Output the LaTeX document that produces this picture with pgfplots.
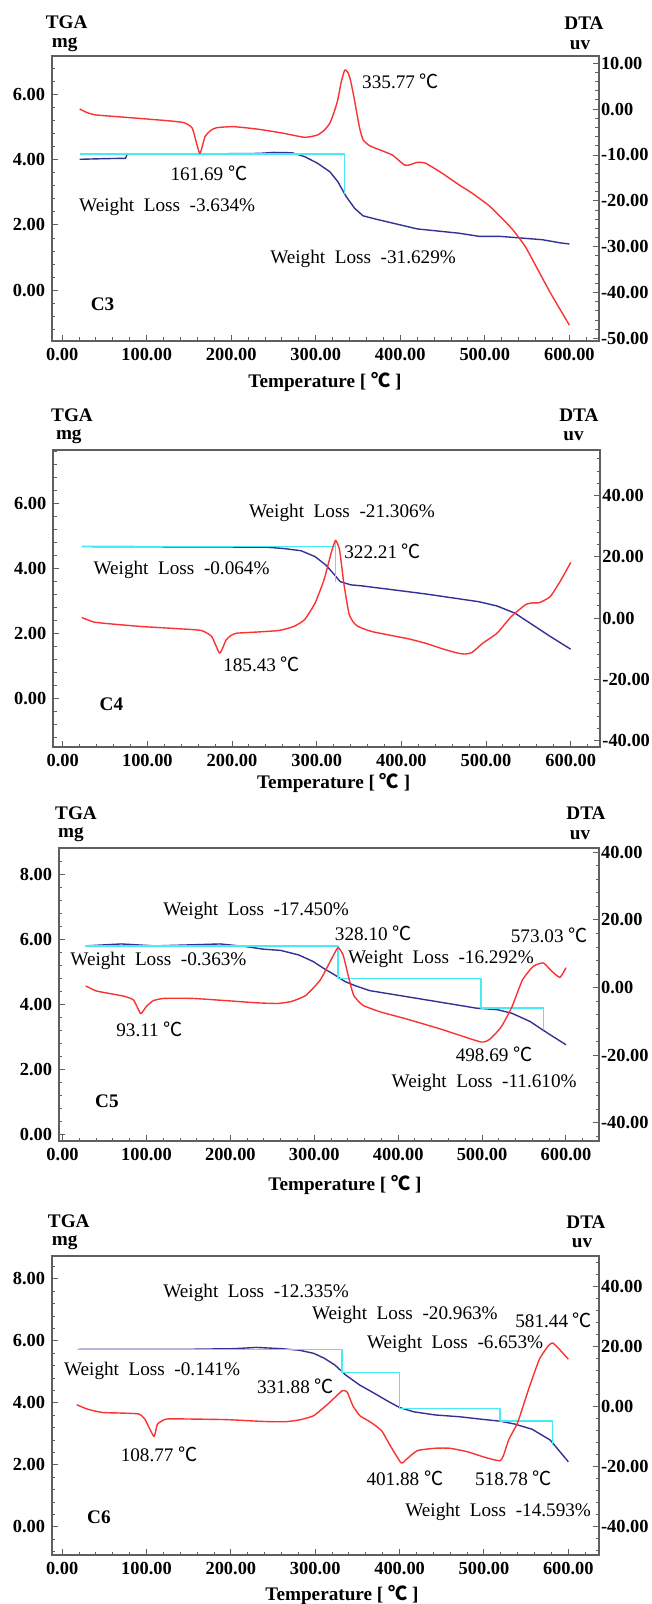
\documentclass[border=0pt]{standalone}
\usepackage{pgfplots}
\pgfplotsset{compat=1.18}
\usepackage{fontspec}
\setmainfont{Liberation Serif}
\newfontfamily\cjk{Noto Sans CJK SC}

\definecolor{dtared}{RGB}{250,50,50}
\definecolor{tgablue}{RGB}{50,50,150}
\definecolor{stepcyan}{RGB}{70,235,245}
\definecolor{framegray}{RGB}{95,95,95}

\newcommand\dC{{\cjk ℃}}
\newcommand\txt{\fontsize{9.6}{11.5}\selectfont}
\newcommand\wl[1]{Weight\hspace{0.5em}Loss\hspace{0.5em}#1\%}

\pgfplotsset{
  panel/.style={
    scale only axis, clip=false,
    tick align=inside,
    major tick length=3pt, minor tick length=1.6pt,
    tick style={draw=framegray, line width=0.5pt},
    axis line style={draw=framegray, line width=0.9pt},
    every tick label/.append style={font=\bfseries\fontsize{9.2}{11}\selectfont},
    /pgf/number format/fixed,
    /pgf/number format/fixed zerofill,
    /pgf/number format/precision=2,
    /pgf/number format/assume math mode=true,
    every axis plot/.append style={line width=0.7pt, line join=round},
  },
  tga/.style={panel,
    xtick={0,100,...,600}, minor xtick={20,40,...,620},
    xtick pos=bottom, ytick pos=left,
    nodes={font=\txt},
  },
  dta/.style={panel,
    axis x line=none, axis y line*=right,
    yticklabel style={inner xsep=1pt},
  },
}

\begin{document}
\begin{tikzpicture}
\useasboundingbox (0,0) rectangle (326pt,-802pt);

% ---------------- C3
\begin{axis}[tga, at={(26.05pt,-170.35pt)}, width=273.25pt, height=142.5pt,
  xmin=-11.9, xmax=634.6, ymin=-1.54, ymax=7.18,
  ytick={0,2,4,6}, minor ytick={-1.2,-0.8,...,7.0}]
\addplot[tgablue] coordinates {
  (20.7,4.01)(50,4.03)(75,4.04)(77,4.17)(150,4.17)(233,4.19)(250,4.22)
  (272,4.21)(287,4.09)(302,3.89)(316.6,3.63)(326,3.33)(336,2.87)(346,2.51)
  (356,2.28)(371,2.18)(395.5,2.03)(420,1.88)(469,1.75)(494,1.65)(519,1.65)
  (568,1.55)(590,1.45)(600,1.42)};
\addplot[stepcyan] coordinates {(20.7,4.17)(334.3,4.17)(334.3,2.95)};
\node at (axis cs:400.4,6.4) {335.77 \dC};
\node at (axis cs:173.6,3.58) {161.69 \dC};
\node at (axis cs:124.3,2.54) {\wl{-3.634}};
\node at (axis cs:356,0.96) {\wl{-31.629}};
\node[font=\bfseries\txt] at (axis cs:47.8,-0.41) {C3};
\end{axis}
\begin{axis}[dta, at={(26.05pt,-170.35pt)}, width=273.25pt, height=142.5pt,
  xmin=-11.9, xmax=634.6, ymin=-50.5, ymax=11.66,
  ytick={-50,-40,...,10}, minor ytick={-50,-48,...,10}]
\addplot[dtared, smooth, tension=0.3] coordinates {
  (20.7,0.04)(30,-0.8)(40.4,-1.27)(75,-1.78)(124,-2.51)(144,-2.95)(154,-4.18)
  (162.7,-9.64)(169,-6.0)(176,-4.6)(183,-4.04)(203,-3.82)(233,-4.4)(262,-5.27)
  (287,-6.15)(302,-5.64)(310,-4.6)(316.6,-3.09)(322,-0.5)(326,2.0)(330,5.8)
  (334.3,8.55)(338,8.0)(341,6.36)(345,2.8)(348.6,-0.9)(352,-4.2)(356,-6.7)
  (363,-7.9)(371,-8.55)(390.5,-10.0)(405,-12.2)(412,-12.1)(420,-11.6)
  (430,-11.8)(449.7,-14.0)(469.4,-16.5)(484,-18.2)(504,-20.9)(518.7,-23.5)
  (533.5,-26.4)(548,-30.0)(563,-35.1)(578,-40.2)(600,-47.1)};
\end{axis}

% ---------------- C4
\begin{axis}[tga, at={(26.7pt,-373.35pt)}, width=273.3pt, height=148.35pt,
  xmin=-11, xmax=634.6, ymin=-1.47, ymax=7.66,
  ytick={0,2,4,6}, minor ytick={-1.2,-0.8,...,7.6}]
\addplot[tgablue] coordinates {
  (22.6,4.69)(239.3,4.67)(260.5,4.63)(281.5,4.56)(298,4.38)(310.8,4.12)
  (319.3,3.87)(327.7,3.61)(340.3,3.51)(353,3.48)(386.6,3.37)(428.7,3.23)
  (470.8,3.07)(491.8,2.99)(512.9,2.86)(534,2.64)(555,2.28)(576,1.92)(600,1.53)};
\addplot[stepcyan] coordinates {(22.6,4.69)(322.2,4.69)};
\addplot[stepcyan] coordinates {(322.2,4.89)(322.2,3.61)};
\node at (axis cs:329.8,5.73) {\wl{-21.306}};
\node at (axis cs:378,4.53) {322.21 \dC};
\node at (axis cs:140.4,3.97) {\wl{-0.064}};
\node at (axis cs:235,1.08) {185.43 \dC};
\node[font=\bfseries\txt] at (axis cs:57.5,-0.16) {C4};
\end{axis}
\begin{axis}[dta, at={(26.7pt,-373.35pt)}, width=273.3pt, height=148.35pt,
  xmin=-11, xmax=634.6, ymin=-41.96, ymax=54.9,
  ytick={-40,-20,...,40}, minor ytick={-40,-36,...,52}]
\addplot[dtared, smooth, tension=0.3] coordinates {
  (22.6,0.2)(30,-0.6)(37.3,-1.3)(54,-1.8)(92,-2.7)(134,-3.4)(163.5,-4.0)(176,-6.0)
  (185.4,-11.4)(193,-7.1)(199,-5.6)(205.6,-4.9)(231,-4.5)(256,-4.0)(273,-2.7)
  (285.6,-0.5)(298,4.9)(308.6,12.5)(317,21.2)(322.2,25.4)(327,22.3)
  (332,11.4)(338,1.6)(343,-1.2)(348.7,-2.7)(365.6,-4.4)(407.7,-6.7)(428.7,-8.2)
  (449.7,-10.1)(466.6,-11.4)(475,-11.7)(483.4,-11.2)(496,-8.2)(513,-4.9)(529.7,0.5)
  (546.6,4.4)(555,5.0)(563.4,5.1)(576,7.1)(588.6,12.5)(600,18.2)};
\end{axis}

% ---------------- C5
\begin{axis}[tga, at={(29.6pt,-570.35pt)}, width=269.75pt, height=146.2pt,
  xmin=-4, xmax=639, ymin=-0.2, ymax=8.82,
  ytick={0,2,4,6,8}, minor ytick={0,0.4,...,8.8}]
\addplot[tgablue] coordinates {
  (27.5,5.81)(70,5.87)(110,5.81)(150,5.84)(188,5.87)(218,5.79)(239,5.71)
  (260,5.67)(281.5,5.53)(298.5,5.33)(311,5.12)(324,4.92)(336.6,4.71)
  (349,4.58)(366,4.43)(408.6,4.25)(451,4.07)(493,3.89)(518.6,3.84)
  (535.6,3.73)(557,3.48)(578,3.12)(600,2.76)};
\addplot[stepcyan] coordinates {(27.5,5.81)(328.1,5.81)(328.1,4.81)
  (498.7,4.81)(498.7,3.89)(573,3.89)(573,3.22)};
\node at (axis cs:230.7,6.89) {\wl{-17.450}};
\node at (axis cs:370.4,6.2) {328.10 \dC};
\node at (axis cs:580,6.15) {573.03 \dC};
\node at (axis cs:114.3,5.36) {\wl{-0.363}};
\node at (axis cs:451,5.42) {\wl{-16.292}};
\node at (axis cs:103.7,3.25) {93.11 \dC};
\node at (axis cs:514.4,2.45) {498.69 \dC};
\node at (axis cs:502.5,1.57) {\wl{-11.610}};
\node[font=\bfseries\txt] at (axis cs:52.9,1.01) {C5};
\end{axis}
\begin{axis}[dta, at={(29.6pt,-570.35pt)}, width=269.75pt, height=146.2pt,
  xmin=-4, xmax=639, ymin=-45.3, ymax=41.2,
  ytick={-40,-20,...,40}, minor ytick={-44,-40,...,40}]
\addplot[dtared, smooth, tension=0.3] coordinates {
  (27.5,0.5)(40.2,-1.0)(57.2,-1.8)(74,-2.6)(84.7,-3.7)(93.1,-7.7)(99.5,-5.7)
  (108,-3.9)(120.7,-3.2)(154.5,-3.2)(197,-3.9)(230.7,-4.5)(256,-4.7)
  (273,-4.1)(290,-2.3)(307,2.2)(319.8,8.1)(328.1,11.8)(334.4,9.6)
  (340.8,3.2)(347,-2.3)(357.7,-5.2)(378.9,-7.2)(408.6,-9.2)(451,-12.3)
  (498.7,-16.1)(510,-15.1)(522.9,-11.6)(535.6,-5.7)(548,2.2)(561,6.3)
  (573,7.3)(582,5.1)(592.7,3.0)(600,5.9)};
\end{axis}

% ---------------- C6
\begin{axis}[tga, at={(26.05pt,-777.5pt)}, width=273.3pt, height=149.65pt,
  xmin=-11.9, xmax=636, ymin=-0.91, ymax=8.75,
  ytick={0,2,4,6,8}, minor ytick={-0.8,-0.4,...,8.6}]
\addplot[tgablue] coordinates {
  (20,5.73)(150,5.73)(204.3,5.75)(230,5.79)(259.6,5.75)(281,5.70)(298,5.60)
  (310.7,5.44)(323.4,5.22)(336,4.90)(353,4.57)(370,4.31)(387,4.04)
  (400,3.85)(417,3.71)(442.4,3.61)(472,3.55)(497.7,3.47)(519,3.41)
  (536,3.32)(557,3.15)(578.5,2.80)(600,2.10)};
\addplot[stepcyan] coordinates {(17.3,5.73)(331.9,5.73)(331.9,4.98)
  (400,4.98)(400,3.82)(519,3.82)(519,3.42)(581.4,3.42)(581.4,2.64)};
\node at (axis cs:230,7.56) {\wl{-12.335}};
\node at (axis cs:406.3,6.84) {\wl{-20.963}};
\node at (axis cs:582.7,6.67) {581.44 \dC};
\node at (axis cs:465.8,5.90) {\wl{-6.653}};
\node at (axis cs:106.6,5.04) {\wl{-0.141}};
\node at (axis cs:276.6,4.54) {331.88 \dC};
\node at (axis cs:115,2.35) {108.77 \dC};
\node at (axis cs:406.3,1.56) {401.88 \dC};
\node at (axis cs:535,1.56) {518.78 \dC};
\node at (axis cs:516.8,0.48) {\wl{-14.593}};
\node[font=\bfseries\txt] at (axis cs:43.6,0.32) {C6};
\end{axis}
\begin{axis}[dta, at={(26.05pt,-777.5pt)}, width=273.3pt, height=149.65pt,
  xmin=-11.9, xmax=636, ymin=-49.4, ymax=50.1,
  ytick={-40,-20,...,40}, minor ytick={-48,-44,...,48}]
\addplot[dtared, smooth, tension=0.3] coordinates {
  (17.3,0.55)(30,-0.9)(47,-2.0)(68.5,-2.2)(90.6,-2.5)(98,-4.2)(108.8,-10.0)
  (113,-5.9)(123.6,-4.2)(153,-4.2)(196,-4.4)(238.3,-5.0)(264,-5.1)
  (281,-4.5)(298,-3.1)(315,0.8)(331.9,5.2)(338,4.7)(344.6,0.2)(353,-3.1)
  (366,-5.3)(378.7,-8.1)(389,-13.1)(401.9,-18.8)(408.4,-17.5)(421,-14.7)
  (442.4,-13.9)(459.4,-13.9)(480.7,-15.1)(502,-17.0)(518.8,-18.1)
  (523,-16.4)(529.6,-10.9)(540,-5.3)(553,5.8)(565.7,15.7)(576.4,20.2)
  (581.4,21.1)(589,19.1)(600,15.7)};
\end{axis}

% ---------------- axis titles (pixel coordinates of the 652x1604 frame)
\begin{scope}[x=0.5pt, y=-0.5pt, every node/.style={font=\bfseries\txt}]
  \foreach \ty/\my/\tx/\mx/\dx/\ux/\px/\py in {
      22.7/45/66.7/64.7/584/580/325/381.7,
      415/436.7/72/68.8/578.8/573.6/333.7/783,
      813/835/76/71/586/580/345/1185,
      1221.7/1243/68.8/64.7/586/582/342/1595} {
    \node at (\tx,\ty) {TGA};
    \node at (\mx,\my) {mg};
    \node at (\dx,\ty) {DTA};
    \node at (\ux,\my) {uv};
    \node at (\px,\py) {Temperature [ \dC\ ]};
  }
\end{scope}
\end{tikzpicture}
\end{document}
